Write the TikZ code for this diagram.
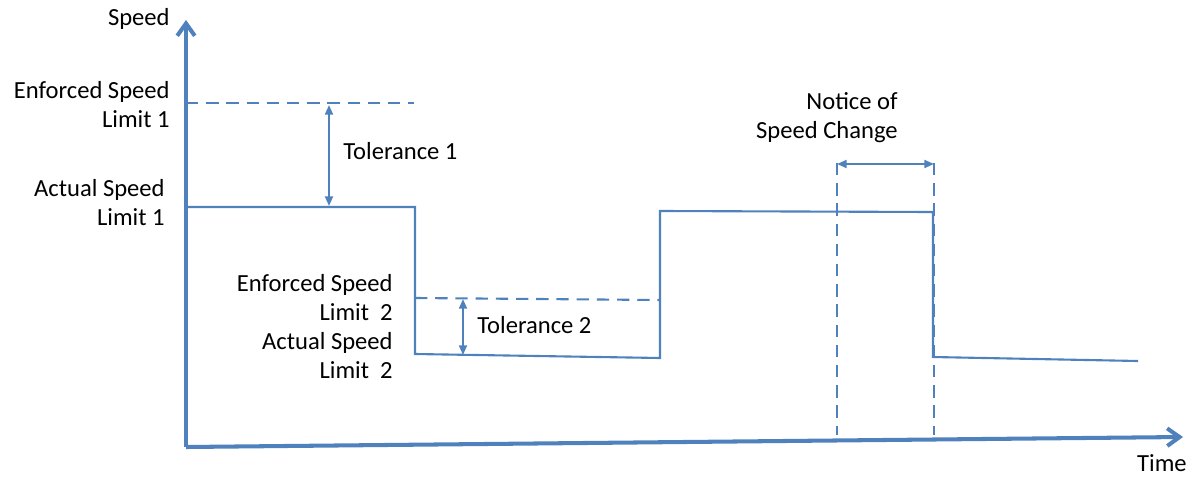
\documentclass[tikz,border=0pt]{standalone}
\usepackage{fontspec}
\setmainfont{Carlito}
\usetikzlibrary{arrows.meta,positioning}
\definecolor{lineblue}{RGB}{79,129,189}

\begin{document}
\begin{tikzpicture}[x=0.02cm, y=-0.02cm, font=\fontsize{14}{16.5}\selectfont]
		\tikzstyle{axis} = [lineblue, line width=2.3pt, -{Straight Barb[length=7pt, width=10pt]}]
		\tikzstyle{trace} = [lineblue, line width=1.2pt]
		\tikzstyle{limit} = [lineblue, line width=1.2pt, dash pattern=on 7pt off 4.5pt]
		\tikzstyle{gap} = [lineblue, line width=1.2pt, {Triangle[length=5.5pt, width=4.5pt]}-{Triangle[length=5.5pt, width=4.5pt]}]
		\tikzstyle{label} = [align=right, inner sep=0pt]

		\useasboundingbox (0,0) rectangle (1197,477);

		% axes
		\coordinate (o) at (186,447);
		\coordinate (ytop) at (186,20);
		\coordinate (xend) at (1183,437);
		\draw[axis] (o) -- (ytop);
		\draw[axis] (o) -- (xend);

		% speed profile
		\coordinate (a1) at (186,207);
		\coordinate (a2) at (415,207);
		\coordinate (a3) at (415,354);
		\coordinate (a4) at (660,358);
		\coordinate (a5) at (660,211);
		\coordinate (a6) at (933,212);
		\coordinate (a7) at (933,357);
		\coordinate (a8) at (1138,361);
		\draw[trace] (a1) -- (a2) -- (a3) -- (a4) -- (a5) -- (a6) -- (a7) -- (a8);

		% enforced limits
		\coordinate (e1a) at (186,103);
		\coordinate (e1b) at (414,103);
		\coordinate (e2a) at (415,298);
		\coordinate (e2b) at (660,300);
		\draw[limit] (e1a) -- (e1b);
		\draw[limit] (e2a) -- (e2b);

		% tolerances
		\coordinate (t1a) at (329,105);
		\coordinate (t1b) at (329,206);
		\coordinate (t2a) at (463,299);
		\coordinate (t2b) at (463,355);
		\draw[gap] (t1a) -- (t1b);
		\draw[gap] (t2a) -- (t2b);

		% notice window
		\coordinate (n1a) at (837,163);
		\coordinate (n1b) at (837,435);
		\coordinate (n2a) at (934,163);
		\coordinate (n2b) at (934,435);
		\draw[limit] (n1a) -- (n1b);
		\draw[limit] (n2a) -- (n2b);
		\draw[gap] (837,164) -- (934,164);

		% labels
		\node[label, anchor=base east] (speed) at (170,25) {Speed};
		\node[label, anchor=base east] (time) at (1187,471) {Time};
		\node[label, anchor=base east] (enf1) at (170,127) {Enforced Speed\\Limit 1};
		\node[label, anchor=base east] (act1) at (165,225) {Actual Speed\\Limit 1};
		\node[label, anchor=base east] (enf2) at (393,320) {Enforced Speed\\Limit\ \ 2};
		\node[label, anchor=base east] (act2) at (393,378) {Actual Speed\\Limit\ \ 2};
		\node[label, anchor=base west] (tol1) at (343,159) {Tolerance 1};
		\node[label, anchor=base west] (tol2) at (477,333) {Tolerance 2};
		\node[label, anchor=base east] (notice) at (898,138) {Notice of\\Speed Change};
\end{tikzpicture}
\end{document}
